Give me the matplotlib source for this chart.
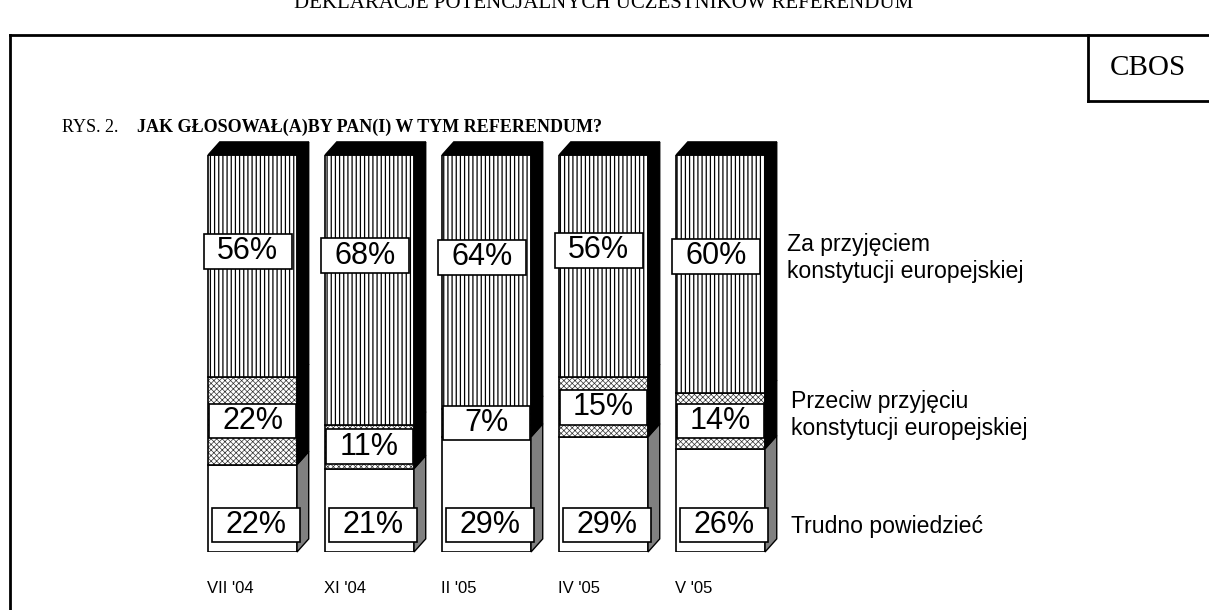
import numpy as np
import matplotlib
matplotlib.use("Agg")
import matplotlib.pyplot as plt
from matplotlib.patches import Polygon, Rectangle
from matplotlib.lines import Line2D

# dane
periods = ["VII '04", "XI '04", "II '05", "IV '05", "V '05"]
za = np.array([56, 68, 64, 56, 60])
przeciw = np.array([22, 11, 7, 15, 14])
trudno = np.array([22, 21, 29, 29, 26])
series_names = ["Za przyjęciem\nkonstytucji europejskiej",
                "Przeciw przyjęciu\nkonstytucji europejskiej",
                "Trudno powiedzieć"]

# pozycje etykiet (wysokosc etykiet gornych)
top_label_y = [75.7, 74.6, 74.2, 76.0, 74.5]

sans = 'Liberation Sans'
serif = 'Liberation Serif'

fig = plt.figure(figsize=(12.09, 6.10), dpi=100)
ax = fig.add_axes([0.1605, 0.0951, 0.4839, 0.6508])
ax.set_xlim(-0.5, 4.5)
ax.set_ylim(0, 100)
ax.axis('off')

x = np.arange(len(periods))
w = 0.76
dx, dy = 0.10, 3.3

ax.bar(x, trudno, width=w, color='white', edgecolor='black', lw=1.2)
with plt.rc_context({'hatch.linewidth': 0.5}):
    ax.bar(x, przeciw, bottom=trudno, width=w, color='white', edgecolor='#333333',
           hatch='xxxxxx', lw=0)
ax.bar(x, przeciw, bottom=trudno, width=w, fill=False, edgecolor='black', lw=1.2)
with plt.rc_context({'hatch.linewidth': 0.9}):
    ax.bar(x, za, bottom=trudno + przeciw, width=w, color='white', edgecolor='black',
           hatch='||||', lw=1.2)

# boki 3D
for i in range(len(x)):
    xl, xr = x[i] - w / 2, x[i] + w / 2
    segs = [(0, trudno[i], '#808080'),
            (trudno[i], trudno[i] + przeciw[i], 'black'),
            (trudno[i] + przeciw[i], 100, 'black')]
    for b, t, c in segs:
        ax.add_patch(Polygon([(xr, b), (xr + dx, b + dy), (xr + dx, t + dy), (xr, t)],
                             closed=True, facecolor=c, edgecolor='black', lw=1,
                             clip_on=False))
    ax.add_patch(Polygon([(xl, 100), (xl + dx, 100 + dy), (xr + dx, 100 + dy), (xr, 100)],
                         closed=True, facecolor='black', edgecolor='black', lw=1,
                         clip_on=False))


def label(xc, yc, txt):
    bw, bh = 0.75, 8.8
    ax.add_patch(Rectangle((xc - bw / 2, yc - bh / 2), bw, bh, facecolor='white',
                           edgecolor='black', lw=1.2, zorder=5, clip_on=False))
    ax.text(xc, yc, txt, ha='center', va='center', fontsize=22, family=sans,
            zorder=6)


for i in range(len(x)):
    label(x[i] - 0.04, top_label_y[i], f"{za[i]}%")
    label(x[i], trudno[i] + przeciw[i] / 2, f"{przeciw[i]}%")
    label(x[i] + 0.03, 6.8, f"{trudno[i]}%")
    ax.text(x[i] - 0.39, -9.1, periods[i], ha='left', va='center', fontsize=12,
            family=sans)

# opisy serii
fig.text(0.651, 0.577, series_names[0], ha='left', va='center', fontsize=16.6,
         family=sans, linespacing=1.2)
fig.text(0.654, 0.3197, series_names[1], ha='left', va='center', fontsize=16.6,
         family=sans, linespacing=1.2)
fig.text(0.654, 0.1377, series_names[2], ha='left', va='center', fontsize=16.6,
         family=sans)

# ramka
fig.add_artist(Line2D([0.0083, 0.0083], [0, 0.9426], color='black', lw=2))
fig.add_artist(Line2D([0.0083, 1.0], [0.9426, 0.9426], color='black', lw=2))
fig.add_artist(Line2D([0.8999, 0.8999], [0.8344, 0.9426], color='black', lw=2))
fig.add_artist(Line2D([0.8999, 1.0], [0.8344, 0.8344], color='black', lw=2))

fig.text(0.9495, 0.8885, "CBOS", ha='center', va='center', fontsize=21, family=serif)
fig.text(0.4996, 0.987, "DEKLARACJE POTENCJALNYCH UCZESTNIKÓW REFERENDUM",
         ha='center', va='baseline', fontsize=15, family=serif)
fig.text(0.0513, 0.7918, "RYS. 2.", ha='left', va='center', fontsize=13, family=serif)
fig.text(0.1133, 0.7918, "JAK GŁOSOWAŁ(A)BY PAN(I) W TYM REFERENDUM?", ha='left',
         va='center', fontsize=13, family=serif, fontweight='bold')

fig.savefig('out.png', dpi=100)
